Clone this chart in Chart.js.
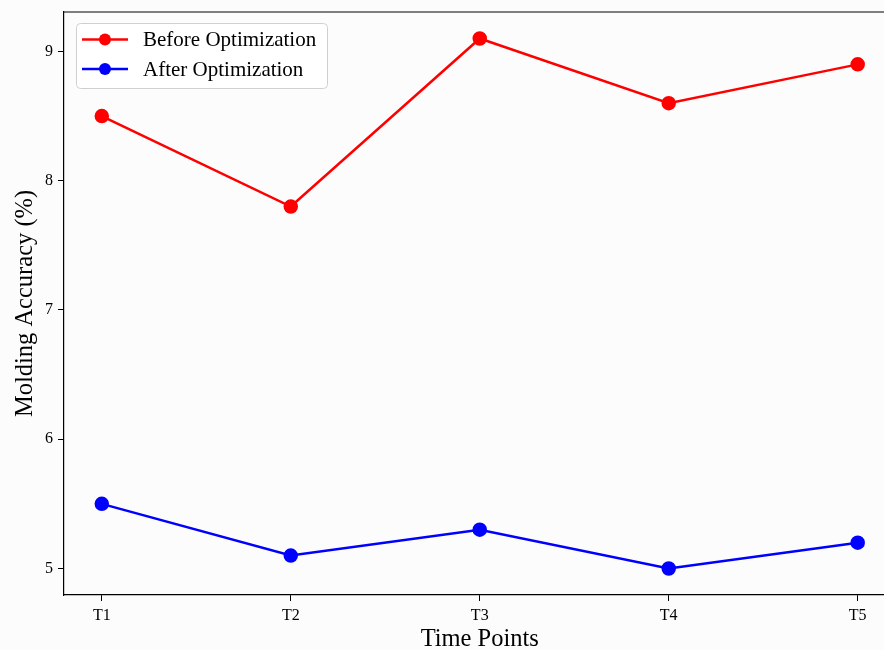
<!DOCTYPE html>
<html>
<head>
<meta charset="utf-8">
<script src="https://cdn.jsdelivr.net/npm/chart.js@4.4.0/dist/chart.umd.min.js"></script>
<style>
  html, body { margin: 0; padding: 0; overflow: hidden; background: #fcfcfc; }
  #wrap { width: 904px; height: 650px; }
</style>
</head>
<body>
<div id="wrap"><canvas id="chart"></canvas></div>
<script>
const timePoints = ['T1', 'T2', 'T3', 'T4', 'T5'];
const beforeValues = [8.5, 7.8, 9.1, 8.6, 8.9];
const afterValues = [5.5, 5.1, 5.3, 5.0, 5.2];
const yTicks = [5, 6, 7, 8, 9];

const FONT = "'Liberation Serif', 'Times New Roman', serif";

// legend box drawn inside the plot area, like matplotlib's upper-left legend
const insideLegend = {
  id: 'insideLegend',
  afterDraw(chart) {
    const ctx = chart.ctx;
    const a = chart.chartArea;
    const x = a.left + 12, y = a.top + 11, w = 251, h = 65;
    ctx.save();
    ctx.fillStyle = 'rgba(255,255,255,0.8)';
    ctx.strokeStyle = '#d0d0d0';
    ctx.lineWidth = 1;
    ctx.beginPath();
    ctx.roundRect(x + 0.5, y + 0.5, w, h, 4);
    ctx.fill();
    ctx.stroke();
    chart.data.datasets.forEach((ds, i) => {
      const cy = y + 16.5 + i * 29.5;
      ctx.strokeStyle = ds.borderColor;
      ctx.lineWidth = 2.5;
      ctx.beginPath();
      ctx.moveTo(x + 6, cy);
      ctx.lineTo(x + 52, cy);
      ctx.stroke();
      ctx.fillStyle = ds.borderColor;
      ctx.beginPath();
      ctx.arc(x + 29, cy, 6, 0, Math.PI * 2);
      ctx.fill();
      ctx.fillStyle = '#000';
      ctx.font = '21px ' + FONT;
      ctx.textBaseline = 'middle';
      ctx.fillText(ds.label, x + 67, cy + 1);
    });
    ctx.restore();
  }
};

// top and right spines
const topSpine = {
  id: 'topSpine',
  afterDraw(chart) {
    const ctx = chart.ctx;
    const a = chart.chartArea;
    ctx.save();
    ctx.strokeStyle = '#000';
    ctx.lineWidth = 1.2;
    ctx.beginPath();
    ctx.moveTo(a.left, a.top);
    ctx.lineTo(a.right, a.top);
    ctx.lineTo(a.right, a.bottom);
    ctx.stroke();
    ctx.restore();
  }
};

const mkData = (vals) => vals.map((v, i) => ({ x: i, y: v }));

new Chart(document.getElementById('chart'), {
  type: 'line',
  data: {
    datasets: [
      {
        label: 'Before Optimization',
        data: mkData(beforeValues),
        borderColor: '#ff0000',
        backgroundColor: '#ff0000',
        borderWidth: 2.5,
        pointRadius: 6,
        pointHoverRadius: 6,
        tension: 0
      },
      {
        label: 'After Optimization',
        data: mkData(afterValues),
        borderColor: '#0000ff',
        backgroundColor: '#0000ff',
        borderWidth: 2.5,
        pointRadius: 6,
        pointHoverRadius: 6,
        tension: 0
      }
    ]
  },
  options: {
    responsive: true,
    maintainAspectRatio: false,
    animation: false,
    layout: { padding: { top: 12, right: 5, left: 0, bottom: 0 } },
    plugins: { legend: { display: false }, tooltip: { enabled: false } },
    scales: {
      x: {
        type: 'linear',
        min: -0.2,
        max: 4.2,
        afterBuildTicks: (scale) => { scale.ticks = timePoints.map((_, i) => ({ value: i })); },
        afterFit: (scale) => { scale.height = 55; },
        ticks: {
          callback: (v) => timePoints[v],
          color: '#000',
          font: { family: FONT, size: 16 },
          padding: 5,
          maxRotation: 0
        },
        grid: { drawOnChartArea: false, color: '#000', tickLength: 6, tickWidth: 1 },
        border: { color: '#000', width: 1.2 },
        title: {
          display: true,
          text: 'Time Points',
          color: '#000',
          font: { family: FONT, size: 24.5, lineHeight: 1 },
          padding: { top: 0, bottom: -2 }
        }
      },
      y: {
        min: 4.795,
        max: 9.305,
        afterBuildTicks: (scale) => { scale.ticks = yTicks.map((v) => ({ value: v })); },
        afterFit: (scale) => {
          scale.width = 64;
          scale.paddingTop = 0;
          scale.paddingBottom = 0;
        },
        ticks: {
          color: '#000',
          font: { family: FONT, size: 16 },
          padding: 5
        },
        grid: { drawOnChartArea: false, color: '#000', tickLength: 6, tickWidth: 1 },
        border: { color: '#000', width: 1.2 },
        title: {
          display: true,
          text: 'Molding Accuracy (%)',
          color: '#000',
          font: { family: FONT, size: 24.5, lineHeight: 1 },
          padding: { top: 13, bottom: 0 }
        }
      }
    }
  },
  plugins: [insideLegend, topSpine]
});
</script>
</body>
</html>
